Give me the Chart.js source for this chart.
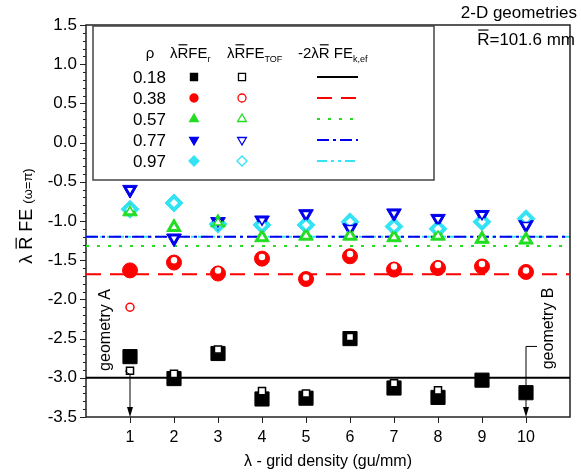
<!DOCTYPE html>
<html lang="en">
<head>
<meta charset="UTF-8">
<script src="https://cdn.jsdelivr.net/npm/chart.js@4.4.0/dist/chart.umd.min.js"></script>
<style>
  body { margin: 0; background: #fff; }
</style>
<title>2-D geometries</title>
</head>
<body>
<canvas id="chart" width="581" height="472"></canvas>
<script>
// grid density (gu/mm)
var lambdas = [1, 2, 3, 4, 5, 6, 7, 8, 9, 10];
var rhos = ['0.18', '0.38', '0.57', '0.77', '0.97'];
var yTicks = [-3.5, -3.0, -2.5, -2.0, -1.5, -1.0, -0.5, 0.0, 0.5, 1.0, 1.5];

// λR̄FE_r  (filled symbols)
var fer018 = [-2.73, -3.01, -2.69, -3.27, -3.26, -2.50, -3.13, -3.25, -3.03, -3.19];
var fer038 = [-1.63, -1.53, -1.67, -1.48, -1.74, -1.45, -1.62, -1.60, -1.58, -1.65];
var fer057 = [-0.88, -1.08, -1.02, -1.21, -1.19, -1.19, -1.21, -1.19, -1.23, -1.24];
var fer077 = [-0.60, -1.22, -1.01, -0.99, -0.91, -1.09, -0.90, -0.97, -0.92, -1.05];
var fer097 = [-0.85, -0.77, -1.04, -1.05, -1.05, -1.01, -1.07, -1.10, -1.01, -0.97];

// λR̄FE_TOF  (open symbols; none shown for the last two black points)
var tof018 = [-2.91, -2.95, -2.64, -3.17, -3.20, -2.48, -3.07, -3.16, null, null];
var tof038 = [-2.10, -1.50, -1.63, -1.46, -1.72, -1.42, -1.58, -1.56, -1.55, -1.63];
var tof057 = [-0.88, -1.08, -1.02, -1.21, -1.19, -1.19, -1.21, -1.19, -1.23, -1.24];
var tof077 = [-0.60, -1.22, -1.01, -0.99, -0.91, -1.09, -0.90, -0.97, -0.92, -1.05];
var tof097 = [-0.85, -0.77, -1.04, -1.05, -1.05, -1.01, -1.07, -1.10, -1.01, -0.97];

// -2λR̄ FE_k,ef  (horizontal reference lines)
var fek = [-3.00, -1.68, -1.32, -1.20, -1.20];

var colors = ['#000000', '#ff0000', '#22dd22', '#0000ee', '#33e3f3'];
var styles = ['rect', 'circle', 'triangle', 'triangle', 'rectRot'];
var rots = [0, 0, 0, 180, 0];
var bigR = [10, 7.5, 8.5, 8.5, 9];
var smallR = [5, 4, 5, 5, 5];
var dashes = [[], [15, 9], [3, 8], [12, 4, 3, 4], [10, 4, 3, 4, 3, 4]];

var FONT = '"Liberation Sans", Arial, sans-serif';

function pts(vals) {
    return lambdas.map(function (x, i) { return { x: x, y: vals[i] }; })
        .filter(function (p) { return p.y !== null; });
}

var filled = [fer018, fer038, fer057, fer077, fer097];
var open = [tof018, tof038, tof057, tof077, tof097];

var datasets = [];
for (var i = 0; i < 5; i++) {
    datasets.push({
        label: 'TOF ' + rhos[i], data: pts(open[i]), order: 0,
        pointStyle: styles[i], pointRotation: rots[i],
        pointRadius: smallR[i], pointBackgroundColor: '#fff',
        pointBorderColor: colors[i], pointBorderWidth: 1.5, showLine: false
    });
}
for (var i = 0; i < 5; i++) {
    datasets.push({
        label: 'r ' + rhos[i], data: pts(filled[i]), order: 1,
        pointStyle: styles[i], pointRotation: rots[i],
        pointRadius: bigR[i], pointBackgroundColor: colors[i],
        pointBorderColor: colors[i], pointBorderWidth: 1, showLine: false
    });
}
for (var i = 0; i < 5; i++) {
    datasets.push({
        type: 'line', label: 'k,ef ' + rhos[i], order: 2,
        data: [{ x: 0, y: fek[i] }, { x: 11, y: fek[i] }],
        borderColor: colors[i], borderWidth: 2, borderDash: dashes[i],
        pointRadius: 0, fill: false
    });
}

// text made of pieces: {t, s (font size), dy (shift), bar (overline)}
function rich(ctx, parts, x, y, align) {
    var total = 0;
    parts.forEach(function (p) {
        ctx.font = p.s + 'px ' + FONT;
        p.w = ctx.measureText(p.t).width;
        total += p.w;
    });
    var cx = align === 'center' ? x - total / 2 : (align === 'right' ? x - total : x);
    ctx.textAlign = 'left';
    ctx.textBaseline = 'alphabetic';
    parts.forEach(function (p) {
        ctx.font = p.s + 'px ' + FONT;
        ctx.fillText(p.t, cx, y + (p.dy || 0));
        if (p.bar) {
            ctx.beginPath();
            ctx.lineWidth = 1.2;
            ctx.moveTo(cx + 1, y - p.s * 0.88);
            ctx.lineTo(cx + p.w - 1, y - p.s * 0.88);
            ctx.stroke();
        }
        cx += p.w;
    });
}

function marker(ctx, style, rot, x, y, r, fill, stroke) {
    ctx.save();
    ctx.translate(x, y);
    ctx.rotate(rot * Math.PI / 180);
    ctx.beginPath();
    if (style === 'rect') {
        var s = r * Math.SQRT1_2;
        ctx.rect(-s, -s, 2 * s, 2 * s);
    } else if (style === 'circle') {
        ctx.arc(0, 0, r, 0, Math.PI * 2);
    } else if (style === 'triangle') {
        for (var k = 0; k < 3; k++) {
            var a = k * 2 * Math.PI / 3;
            ctx[k ? 'lineTo' : 'moveTo'](Math.sin(a) * r, -Math.cos(a) * r);
        }
        ctx.closePath();
    } else {
        ctx.moveTo(-r, 0); ctx.lineTo(0, -r); ctx.lineTo(r, 0); ctx.lineTo(0, r);
        ctx.closePath();
    }
    ctx.fillStyle = fill;
    ctx.fill();
    ctx.lineWidth = 1.3;
    ctx.strokeStyle = stroke;
    ctx.stroke();
    ctx.restore();
}

function arrowDown(ctx, x, y0, y1) {
    ctx.beginPath();
    ctx.moveTo(x, y0);
    ctx.lineTo(x, y1 - 8);
    ctx.stroke();
    ctx.beginPath();
    ctx.moveTo(x - 3, y1 - 10);
    ctx.lineTo(x + 3, y1 - 10);
    ctx.lineTo(x, y1);
    ctx.closePath();
    ctx.fill();
}

var decor = {
    id: 'decor',
    beforeDatasetsDraw: function (chart) {
        var ctx = chart.ctx, a = chart.chartArea;
        var xs = chart.scales.x, ys = chart.scales.y;
        ctx.save();
        ctx.strokeStyle = '#222';
        ctx.lineWidth = 1.5;
        ctx.strokeRect(a.left, a.top, a.right - a.left, a.bottom - a.top);
        // y ticks: major every 0.5, minor every 0.1, outward
        ctx.lineWidth = 1;
        for (var k = 0; k <= 50; k++) {
            var v = -3.5 + k * 0.1;
            var py = Math.round(ys.getPixelForValue(v)) + 0.5;
            var len = (k % 5 === 0) ? 6 : 3;
            ctx.beginPath();
            ctx.moveTo(a.left - len, py);
            ctx.lineTo(a.left, py);
            ctx.stroke();
        }
        lambdas.forEach(function (l) {
            var px = Math.round(xs.getPixelForValue(l)) + 0.5;
            ctx.beginPath();
            ctx.moveTo(px, a.bottom);
            ctx.lineTo(px, a.bottom + 6);
            ctx.stroke();
        });
        ctx.restore();
    },
    afterDraw: function (chart) {
        var ctx = chart.ctx, a = chart.chartArea;
        var xs = chart.scales.x, ys = chart.scales.y;
        ctx.save();
        ctx.fillStyle = '#000';
        ctx.strokeStyle = '#000';

        // axis titles
        ctx.save();
        ctx.translate(32, (a.top + a.bottom) / 2 - 5);
        ctx.rotate(-Math.PI / 2);
        rich(ctx, [{ t: 'λ ', s: 18 }, { t: 'R', s: 18, bar: true }, { t: ' FE ', s: 18 }, { t: '(ω=π)', s: 13 }], 0, 0, 'center');
        ctx.restore();
        rich(ctx, [{ t: 'λ - grid density (gu/mm)', s: 16 }], (a.left + a.right) / 2, 466, 'center');

        // top-right notes
        rich(ctx, [{ t: '2-D geometries', s: 17 }], 577, 18, 'right');
        rich(ctx, [{ t: 'R', s: 17, bar: true }, { t: '=101.6 mm', s: 17 }], 575, 45, 'right');

        // legend table
        ctx.lineWidth = 1.5;
        ctx.strokeStyle = '#444';
        ctx.strokeRect(93, 26, 341, 154);
        ctx.strokeStyle = '#000';
        rich(ctx, [{ t: 'ρ', s: 15 }], 150, 58, 'center');
        rich(ctx, [{ t: 'λ', s: 15 }, { t: 'R', s: 15, bar: true }, { t: 'FE', s: 15 }, { t: 'r', s: 9, dy: 4 }], 170, 58, 'left');
        rich(ctx, [{ t: 'λ', s: 15 }, { t: 'R', s: 15, bar: true }, { t: 'FE', s: 15 }, { t: 'TOF', s: 9, dy: 4 }], 227, 58, 'left');
        rich(ctx, [{ t: '-2λ', s: 15 }, { t: 'R', s: 15, bar: true }, { t: ' FE', s: 15 }, { t: 'k,ef', s: 9, dy: 4 }], 298, 58, 'left');
        for (var i = 0; i < 5; i++) {
            var ry = 77 + i * 21;
            rich(ctx, [{ t: rhos[i], s: 17 }], 166, ry + 6, 'right');
            marker(ctx, styles[i], rots[i], 194, ry, [5, 4, 5, 5, 5][i], colors[i], colors[i]);
            marker(ctx, styles[i], rots[i], 242, ry, [5, 4, 5, 5, 5][i], '#fff', colors[i]);
            ctx.save();
            ctx.strokeStyle = colors[i];
            ctx.lineWidth = 2;
            ctx.setLineDash(dashes[i]);
            ctx.beginPath();
            ctx.moveTo(317, ry);
            ctx.lineTo(358, ry);
            ctx.stroke();
            ctx.restore();
        }

        // geometry A / B callouts
        ctx.lineWidth = 1;
        var xa = xs.getPixelForValue(1), xb = xs.getPixelForValue(10);
        var ya = ys.getPixelForValue(-2.96);
        ctx.beginPath();
        ctx.moveTo(xa - 5, ya - 4);
        ctx.quadraticCurveTo(xa - 2, ya - 1, xa, ya);
        ctx.stroke();
        arrowDown(ctx, xa, ya, a.bottom);
        var yb = ys.getPixelForValue(-2.60);
        ctx.beginPath();
        ctx.moveTo(xb + 11, yb);
        ctx.lineTo(xb, yb);
        ctx.stroke();
        arrowDown(ctx, xb, yb, a.bottom);

        ctx.save();
        ctx.translate(110, ys.getPixelForValue(-2.39));
        ctx.rotate(-Math.PI / 2);
        rich(ctx, [{ t: 'geometry A', s: 16 }], 0, 0, 'center');
        ctx.restore();
        ctx.save();
        ctx.translate(553, ys.getPixelForValue(-2.37));
        ctx.rotate(-Math.PI / 2);
        rich(ctx, [{ t: 'geometry B', s: 16 }], 0, 0, 'center');
        ctx.restore();

        ctx.restore();
    }
};

new Chart(document.getElementById('chart').getContext('2d'), {
    type: 'scatter',
    data: { datasets: datasets },
    options: {
        responsive: false,
        animation: false,
        events: [],
        layout: { padding: { left: 0, top: 25, right: 11, bottom: 0 } },
        plugins: { legend: { display: false }, tooltip: { enabled: false } },
        scales: {
            x: {
                type: 'linear', min: 0, max: 11,
                afterFit: function (s) { s.height = 55; },
                grid: { display: false, drawTicks: true, tickLength: 6 },
                border: { display: false },
                afterBuildTicks: function (s) { s.ticks = lambdas.map(function (v) { return { value: v }; }); },
                ticks: { color: '#000', font: { family: FONT, size: 16 }, padding: 5, maxRotation: 0, autoSkip: false }
            },
            y: {
                type: 'linear', min: -3.5, max: 1.5,
                afterFit: function (s) { s.width = 86; },
                grid: { display: false, drawTicks: true, tickLength: 6 },
                border: { display: false },
                afterBuildTicks: function (s) { s.ticks = yTicks.map(function (v) { return { value: v }; }); },
                ticks: {
                    color: '#000', font: { family: FONT, size: 17 }, padding: 3, autoSkip: false,
                    callback: function (v) { return v.toFixed(1); }
                }
            }
        }
    },
    plugins: [decor]
});
</script>
</body>
</html>
